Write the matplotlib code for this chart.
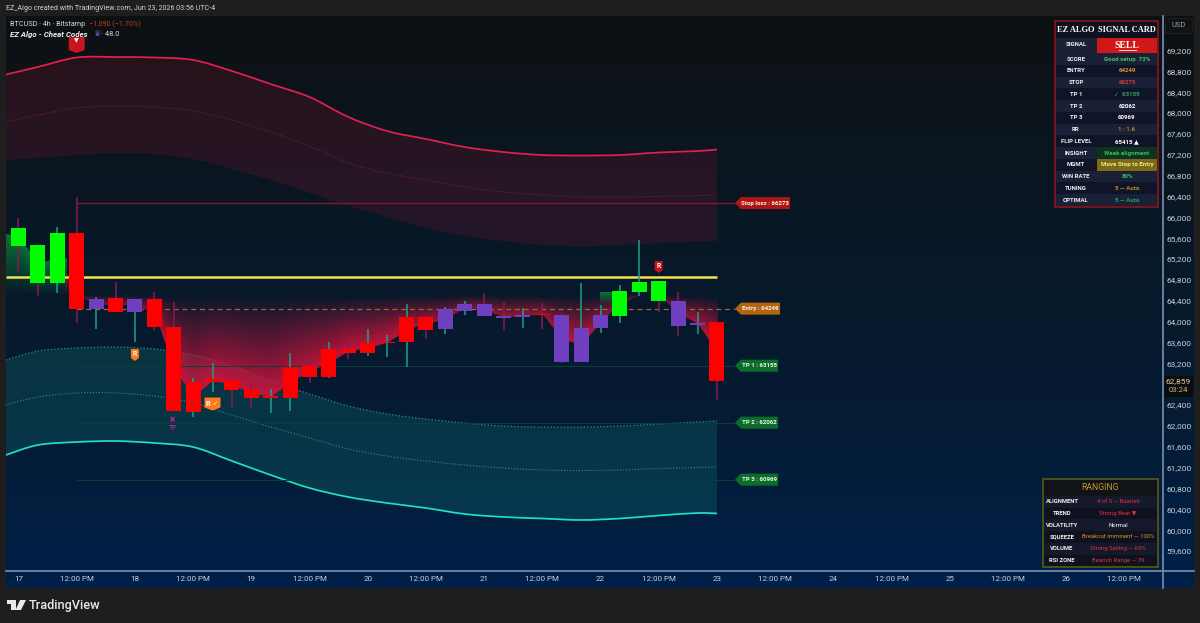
import numpy as np
import matplotlib
matplotlib.use('Agg')
import matplotlib.pyplot as plt
from matplotlib.patches import Polygon, Rectangle, PathPatch
from matplotlib.path import Path

plt.rcParams['font.family'] = ['Roboto', 'DejaVu Sans']

# Candles, 4h bars, prices in USD
opens = [65456, 64735, 64735, 65694, 64428, 64447, 64434, 64434, 63902, 62848, 62894, 62880, 62708,
         62573, 62541, 62943, 62943, 63392, 63404, 63584, 63603, 64083, 63853, 64209, 64338, 64108,
         64083, 64146, 64121, 63883, 63872, 64108, 64568, 64395, 64401, 63979, 63987]
closes = [65796, 65469, 65694, 64236, 64236, 64190, 64190, 63891, 62286, 62272, 62848, 62688, 62541,
          62541, 63135, 63149, 63475, 63475, 63584, 63615, 64083, 63839, 64236, 64338, 64113, 64064,
          64127, 64127, 63220, 63220, 64121, 64581, 64766, 64779, 63922, 63929, 62859]
highs = [65987, 65469, 65809, 66396, 64478, 64766, 64434, 64574, 64382, 62913, 63200, 63014, 62823,
         62702, 63398, 63360, 63615, 63711, 63853, 63743, 64338, 64083, 64286, 64401, 64549, 64382,
         64255, 64357, 64165, 64746, 64319, 64702, 65565, 64779, 64574, 64190, 63987]
lows = [64932, 64491, 64549, 63973, 63858, 64190, 63615, 63839, 62286, 62176, 62656, 62343, 62343,
        62247, 62291, 62828, 62919, 63283, 63341, 63327, 63135, 63661, 63762, 64127, 64113, 63826,
        63878, 63858, 63200, 63220, 63787, 63968, 64497, 64190, 63724, 63762, 62497]
body_kind = list('GGGRPRPRRRRRRRRRRRRRRRPPPPPRPPPGGGPPR')
wick_kind = list('rrtrtrtrrttrrttrtrtttrttrrtrrtttt' 'rrtr')

# Envelope bands, sampled along the bar index
band_x = [-0.65, 1, 3, 5, 7, 9, 11, 13, 15, 17, 19, 21, 23, 25, 27, 29, 31, 33, 35, 36]
upper_outer = [68740, 68884, 69066, 69075, 69066, 69018, 68807, 68557, 68308, 67925, 67656, 67503,
               67349, 67253, 67196, 67186, 67196, 67244, 67272, 67301]
upper_mid = [67829, 67963, 68097, 68136, 68116, 68040, 67867, 67637, 67368, 67042, 66850, 66716,
             66582, 66486, 66428, 66390, 66390, 66400, 66419, 66428]
upper_inner = [67100, 67138, 67196, 67234, 67215, 67119, 66927, 66716, 66467, 66218, 66007, 65796,
               65642, 65546, 65469, 65441, 65469, 65508, 65537, 65546]
lower_inner = [63264, 63436, 63494, 63513, 63475, 63360, 63149, 62861, 62612, 62382, 62228, 62132,
               62055, 61998, 61979, 61979, 61998, 62036, 62075, 62094]
lower_mid = [62401, 62554, 62631, 62631, 62573, 62439, 62209, 61979, 61768, 61557, 61423, 61327,
             61250, 61192, 61154, 61144, 61154, 61183, 61202, 61212]
lower_outer = [61442, 61633, 61691, 61710, 61672, 61595, 61327, 61058, 60809, 60636, 60521, 60425,
               60310, 60253, 60224, 60195, 60224, 60281, 60329, 60320]

# Trade levels
stop_price = 66273
entry_price = 64249
tp_prices = [63155, 62062, 60969]
flip_line = 64856
last_price = '62,859'
countdown = '03:24'

y_ticks = [p for p in range(59600, 69201, 400) if p != 62800]
x_ticks = list(range(0, 58, 3))
x_labels = ['17', '12:00 PM', '18', '12:00 PM', '19', '12:00 PM', '20', '12:00 PM', '21', '12:00 PM',
            '22', '12:00 PM', '23', '12:00 PM', '24', '12:00 PM', '25', '12:00 PM', '26', '12:00 PM']

card_labels = ['SCORE', 'ENTRY', 'STOP', 'TP 1', 'TP 2', 'TP 3', 'RR', 'FLIP LEVEL', 'INSIGHT', 'MGMT',
               'WIN RATE', 'TUNING', 'OPTIMAL']
card_values = ['Good setup  73%', '64249', '66273', '✓  63155', '62062', '60969', '1 : 1.6', '65415 ▲',
               'Weak alignment', 'Move Stop to Entry', '80%', '5 — Auto', '5 — Auto']
card_colors = ['#3cc463', '#d8973a', '#d23a3f', '#2f9f5a', '#ffffff', '#ffffff', '#b58a2a', '#ffffff',
               '#35c060', '#f0e6a0', '#2fbf5f', '#c08a2a', '#2f9f60']

state_labels = ['ALIGNMENT', 'TREND', 'VOLATILITY', 'SQUEEZE', 'VOLUME', 'RSI ZONE']
state_values = ['4 of 5 — Bearish', 'Strong Bear ▼', 'Normal', 'Breakout imminent — 100%',
                'Strong Selling — 69%', 'Bearish Range — 39']
state_colors = ['#e03040', '#e03040', '#ffffff', '#d8902a', '#e03040', '#e03040']

W, H = 1200, 623
fig = plt.figure(figsize=(W / 100, H / 100), dpi=100, facecolor='#1e1e1e')


def box(x0, y0, x1, y1):
    return [x0 / W, 1 - y1 / H, (x1 - x0) / W, (y1 - y0) / H]


# pane background, dark at the top and navy at the bottom
bg = fig.add_axes(box(6, 16, 1194, 588))
stops = np.array([[14, 16, 18], [10, 22, 32], [7, 25, 43], [4, 28, 54], [0, 32, 74]]) / 255
t = np.linspace(0, 4, 300)
grad = np.stack([np.interp(t, range(5), stops[:, i]) for i in range(3)], axis=1)[:, None, :]
bg.imshow(grad, aspect='auto', interpolation='bilinear')
bg.axis('off')

ax = fig.add_axes(box(6, 16, 1163, 571))
ax.patch.set_alpha(0)
xlim = (-0.644, 58.99)
ylim = (59217, 69862)


def curve(xs, ys):
    # bezier control points through the samples, so the bands bend smoothly
    xs, ys = np.array(xs, float), np.array(ys, float)
    px, py = np.r_[xs[0], xs, xs[-1]], np.r_[ys[0], ys, ys[-1]]
    verts = [(xs[0], ys[0])]
    for i in range(1, len(px) - 2):
        verts.append((px[i] + (px[i + 1] - px[i - 1]) / 6, py[i] + (py[i + 1] - py[i - 1]) / 6))
        verts.append((px[i + 1] - (px[i + 2] - px[i]) / 6, py[i + 1] - (py[i + 2] - py[i]) / 6))
        verts.append((px[i + 1], py[i + 1]))
    return verts


def band_line(ys, **kw):
    verts = curve(band_x, ys)
    codes = [Path.MOVETO] + [Path.CURVE4] * (len(verts) - 1)
    ax.add_patch(PathPatch(Path(verts, codes), fill=False, zorder=2, **kw))


def band_fill(top, bottom, color, alpha):
    a = curve(band_x, top)
    b = curve(band_x, bottom)[::-1]
    verts = a + [b[0]] + b[1:] + [a[0]]
    codes = ([Path.MOVETO] + [Path.CURVE4] * (len(a) - 1) + [Path.LINETO]
             + [Path.CURVE4] * (len(b) - 1) + [Path.CLOSEPOLY])
    ax.add_patch(PathPatch(Path(verts, codes), facecolor=color, alpha=alpha, lw=0, zorder=1))


# envelope fills and their lines
band_fill(upper_outer, upper_inner, '#c8143c', 0.15)
band_fill(lower_inner, lower_outer, '#1fd0b0', 0.14)
band_line(upper_outer, edgecolor='#e0204f', lw=1.25)
band_line(upper_mid, edgecolor='#7a1f3a', lw=0.8, ls=':')
band_line(lower_inner, edgecolor='#2d8f85', lw=0.9, ls=':')
band_line(lower_mid, edgecolor='#2d8f85', lw=0.8, ls=':')
band_line(lower_outer, edgecolor='#1fe0c0', lw=1.25)


def shade(xs, edge, base, rgb, strength):
    # vertical fade between a base price and an edge that follows the given prices
    gx = np.linspace(xs[0], xs[-1], 800)
    lo, hi = min(base, min(edge)), max(base, max(edge))
    gy = np.linspace(hi, lo, 400)
    floor = np.interp(gx, xs, edge)
    X, Y = np.meshgrid(gx, gy)
    F = np.interp(X.ravel(), gx, floor).reshape(X.shape)
    span = F - base
    with np.errstate(divide='ignore', invalid='ignore'):
        depth = np.where(span != 0, (Y - base) / span, 0)
    inside = (depth >= 0) & (depth <= 1)
    rgba = np.zeros(X.shape + (4,))
    rgba[..., :3] = np.array(rgb) / 255
    rgba[..., 3] = inside * depth * strength(np.abs(span))
    ax.imshow(rgba, extent=(gx[0], gx[-1], lo, hi), aspect='auto', interpolation='bilinear',
              origin='upper', zorder=3)


mids = (np.array(opens) + np.array(closes)) / 2
red_edge = np.minimum(mids[3:], 64510)
shade(list(range(3, 37)), red_edge, 64510, (205, 20, 60), lambda s: 0.5 + 0.45 * np.clip(s / 800, 0, 1))
shade([-0.644, 0, 1, 2, 2.45], [65661, 65626, 65102, 65215, 65200], 64510, (10, 150, 65), lambda s: 0.72)
shade([29.97, 30.6], [64549, 64549], 64310, (10, 150, 65), lambda s: 0.75)
shade([2.4, 2.95], [64800, 64800], 64510, (150, 15, 45), lambda s: 0.7)

# trade levels
ax.hlines(stop_price, 3, 36.95, color='#7a1f2a', lw=1, zorder=3)
ax.hlines(entry_price, 3, 36.95, color='#9a6a30', lw=0.9, ls=(0, (4, 3)), zorder=3)
ax.hlines(tp_prices, 3, 36.95, color='#0b3f3c', lw=0.7, zorder=3)
ax.hlines(flip_line, -0.644, 36, color='#f4e04d', lw=1.8, zorder=4)

# candles
body_colors = {'R': '#ff0000', 'G': '#00ff00', 'P': '#6f3fc0'}
wick_colors = {'r': '#8a1a50', 't': '#1f9e8e'}
for i in range(len(opens)):
    ax.vlines(i, lows[i], highs[i], color=wick_colors[wick_kind[i]], lw=1.1, zorder=5)
    bottom = min(opens[i], closes[i])
    ax.bar(i, abs(opens[i] - closes[i]), width=0.77, bottom=bottom, color=body_colors[body_kind[i]],
           lw=0, zorder=6)

ax.set_xlim(*xlim)
ax.set_ylim(*ylim)
ax.yaxis.tick_right()
ax.set_yticks(y_ticks)
ax.set_yticklabels([f'{p:,}' for p in y_ticks])
ax.set_xticks(x_ticks)
ax.set_xticklabels(x_labels)
ax.tick_params(axis='y', length=0, pad=2.5, labelsize=6, labelcolor='#c8d0d8')
ax.tick_params(axis='x', length=0, pad=3.5, labelsize=5.8, labelcolor='#c8d0d8')
for side in ['top', 'left']:
    ax.spines[side].set_visible(False)
for side in ['right', 'bottom']:
    ax.spines[side].set_color('#7088a8')
    ax.spines[side].set_linewidth(1.3)

# overlay in pixel units for tags, tables and captions
ov = fig.add_axes([0, 0, 1, 1])
ov.set_xlim(0, W)
ov.set_ylim(H, 0)
ov.axis('off')
ov.patch.set_alpha(0)


def bar_px(i):
    return ax.transData.transform((i, 0))[0]


def price_px(p):
    return H - ax.transData.transform((0, p))[1]


ov.plot([1163, 1194], [571, 571], color='#7088a8', lw=1.3)
ov.plot([1163, 1163], [571, 588], color='#7088a8', lw=1.3)


def level_tag(price, text, color, x1):
    y = price_px(price)
    ov.add_patch(Polygon([(735, y), (741, y - 6), (x1, y - 6), (x1, y + 6), (741, y + 6)], color=color, lw=0))
    ov.text((740 + x1) / 2, y, text, color='#f2f2f2', fontsize=4.4, fontweight='bold', ha='center', va='center')


level_tag(stop_price, f'Stop loss : {stop_price}', '#b01515', 790)
level_tag(entry_price, f'Entry : {entry_price}', '#b5650f', 780)
for n, p in enumerate(tp_prices):
    level_tag(p, f'TP {n + 1} : {p}', '#0b6e28', 778)


def badge(cx, cy, w, h, text, color, fs=4.8, dy=-0.5):
    ov.add_patch(Polygon([(cx - w / 2, cy - h / 2), (cx + w / 2, cy - h / 2), (cx + w / 2, cy + h / 2 - 3),
                          (cx, cy + h / 2), (cx - w / 2, cy + h / 2 - 3)], color=color, lw=0, zorder=7))
    ov.text(cx, cy + dy, text, color='white', fontsize=fs, fontweight='bold', ha='center', va='center', zorder=8)


badge(bar_px(3), 45, 16, 16, '▼', '#c8141e', fs=4.4, dy=-4)
badge(bar_px(6), 355, 8, 12, 'R', '#ff7a1a')
badge(bar_px(10), 404, 16, 13, 'R ✓', '#ff7a1a', fs=5.2)
badge(bar_px(33), 267, 8, 12, 'R', '#c81020')
ov.text(bar_px(8) - 1, 420.5, '×', color='#e0209a', fontsize=7, fontweight='bold', ha='center', va='center')
ov.text(bar_px(8) - 1, 429, 'TP', color='#e0209a', fontsize=5, ha='center', va='center')

# header and legend captions
ov.text(6, 8.5, 'EZ_Algo created with TradingView.com, Jun 23, 2026 03:56 UTC-4', color='#d4d4d4',
        fontsize=5.1, va='center')
ov.text(10, 24.5, 'BTCUSD · 4h · Bitstamp', color='#d8d8d8', fontsize=5.2, va='center')
ov.text(89, 24.5, '−1,090 (−1.70%)', color='#b8401a', fontsize=5.2, va='center')
ov.text(10, 34.5, 'EZ Algo - Cheat Codes', color='#f0f0f0', fontsize=5.7, fontweight='bold', style='italic',
        va='center')
ov.text(93, 34.5, '♛', color='#6a5ab0', fontsize=6, va='center')
ov.text(101, 34.5, '· 48.0', color='#d8d8d8', fontsize=5.4, va='center')

# axis tags
ov.add_patch(Rectangle((1165, 18), 27, 15, facecolor='#101214', edgecolor='#1c2026', lw=0.8))
ov.text(1178.5, 25.5, 'USD', color='#9aa0a6', fontsize=5.4, ha='center', va='center')
ov.add_patch(Rectangle((1164, 376), 29, 21, facecolor='#0c0c0c', lw=0))
ov.text(1178.5, 381, last_price, color='#e0d2a8', fontsize=6, ha='center', va='center')
ov.text(1178.5, 389.5, countdown, color='#c8b890', fontsize=5.6, ha='center', va='center')

# signal card
serif = ['Liberation Serif', 'DejaVu Serif']
ov.add_patch(Rectangle((1055, 21), 102.5, 185.5, facecolor='#0e1220', edgecolor='#8a1520', lw=1.2, zorder=2))
ov.text(1076, 29.5, 'EZ ALGO', color='white', fontsize=6, fontweight='bold', family=serif, ha='center',
        va='center', zorder=4)
ov.text(1127, 29.5, 'SIGNAL CARD', color='white', fontsize=6, fontweight='bold', family=serif, ha='center',
        va='center', zorder=4)
ov.add_patch(Rectangle((1056, 37.5), 40.5, 15.5, facecolor='#1a2036', lw=0, zorder=3))
ov.add_patch(Rectangle((1097, 37.5), 60, 15.5, facecolor='#d01818', lw=0, zorder=3))
ov.text(1076, 45, 'SIGNAL', color='#f0f0f0', fontsize=4.4, fontweight='bold', ha='center', va='center', zorder=4)
ov.text(1127, 45, 'SELL', color='white', fontsize=7, fontweight='bold', family=serif, ha='center', va='center',
        zorder=4)
ov.plot([1118.5, 1135.5], [50, 50], color='white', lw=0.6, zorder=4)
for n in range(len(card_labels)):
    top = 53.2 + n * 11.75
    shade_col = '#1a2036' if n % 2 == 0 else '#0f1428'
    value_col = shade_col
    if card_labels[n] == 'INSIGHT':
        value_col = '#0f3320'
    if card_labels[n] == 'MGMT':
        value_col = '#7a6a14'
    ov.add_patch(Rectangle((1056, top), 40.5, 11.75, facecolor=shade_col, lw=0, zorder=3))
    ov.add_patch(Rectangle((1097, top), 60, 11.75, facecolor=value_col, lw=0, zorder=3))
    ov.text(1076, top + 5.9, card_labels[n], color='#f0f0f0', fontsize=4.3, fontweight='bold', ha='center',
            va='center', zorder=4)
    ov.text(1127, top + 5.9, card_values[n], color=card_colors[n], fontsize=4.4, fontweight='bold', ha='center',
            va='center', zorder=4)

# market state table
ov.add_patch(Rectangle((1043, 479), 115, 87.7, facecolor='#101318', edgecolor='#5a5a10', lw=1.2, zorder=2))
ov.text(1100.5, 487, 'RANGING', color='#c8962a', fontsize=6.2, ha='center', va='center', zorder=4)
for n in range(len(state_labels)):
    top = 496 + n * 11.7
    shade_col = '#141a2c' if n % 2 == 0 else '#0f121e'
    ov.add_patch(Rectangle((1044, top), 113, 11.7, facecolor=shade_col, lw=0, zorder=3))
    ov.text(1062, top + 5.8, state_labels[n], color='#f0f0f0', fontsize=4.2, fontweight='bold', ha='center',
            va='center', zorder=4)
    ov.text(1118, top + 5.8, state_values[n], color=state_colors[n], fontsize=4.3, ha='center', va='center',
            zorder=4)

# footer wordmark
logo = '#e8e8e8'
ov.add_patch(Polygon([(7, 600), (16, 600), (16, 610), (11, 610), (11, 604), (7, 604)], color=logo, lw=0))
ov.add_patch(Polygon([(20, 600), (26, 600), (21, 610), (15.5, 610)], color=logo, lw=0))
ov.text(29, 605, 'TradingView', color=logo, fontsize=9.2, fontweight='medium', va='center')

fig.savefig('out.png', dpi=100, facecolor=fig.get_facecolor())
